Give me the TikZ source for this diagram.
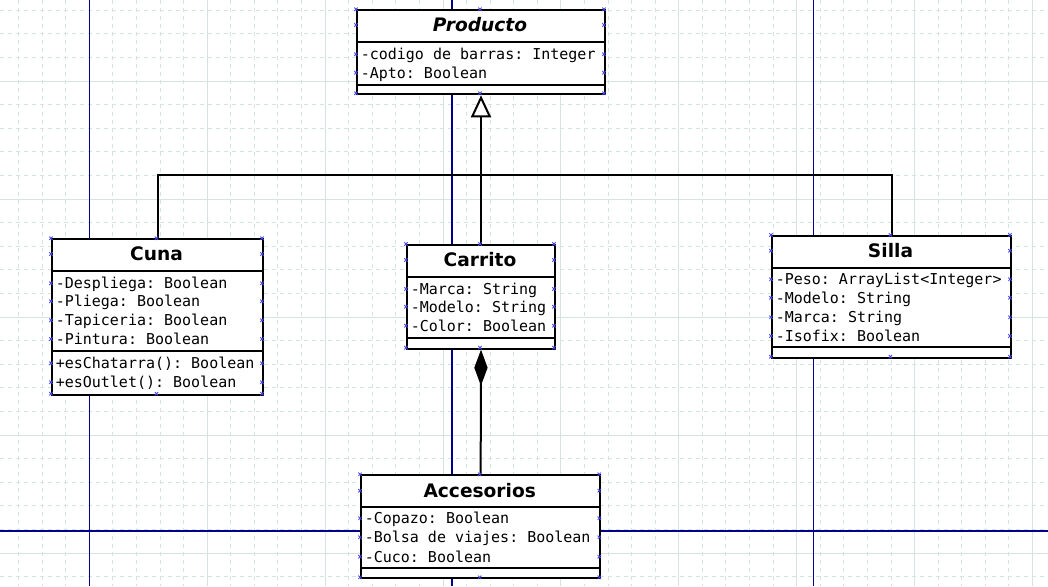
\documentclass[tikz,border=0pt]{standalone}
\usepackage{fontspec}
\setmainfont{DejaVu Sans}
\setsansfont{DejaVu Sans}
\setmonofont{DejaVu Sans Mono}
\usetikzlibrary{arrows.meta}
\definecolor{gridc}{RGB}{214,228,225}
\definecolor{axisc}{RGB}{0,0,140}
\definecolor{markc}{RGB}{70,70,235}
\tikzset{
  classbox/.style={draw=black, line width=1.5pt, fill=white, inner sep=0pt, rectangle, anchor=north west},
  sepline/.style={line width=1.5pt},
  titletext/.style={font=\sffamily\bfseries\fontsize{13.95}{16}\selectfont, inner sep=0pt, anchor=base},
  attrtext/.style={font=\ttfamily\fontsize{11.25}{13}\selectfont, inner sep=0pt, anchor=base west},
  conn/.style={line width=1.5pt, black},
  minorgrid/.style={gridc, line width=0.75pt, dash pattern=on 3pt off 3pt},
  majorgrid/.style={gridc, line width=0.75pt},
  axisline/.style={axisc, line width=1pt},
  cpmark/.style={markc, line width=0.6pt},
}
\newcommand\cpmarkat[2]{\draw[cpmark] ({#1-1.7},{#2-1.7}) -- ({#1+1.7},{#2+1.7}) ({#1-1.7},{#2+1.7}) -- ({#1+1.7},{#2-1.7});}
\newcommand\cpmarks[6]{%
  \foreach \yy in {#4,#5,#6} {\cpmarkat{#1}{\yy}\cpmarkat{#3}{\yy}}%
  \cpmarkat{#2}{#4}\cpmarkat{#2}{#5}}
\begin{document}
\begin{tikzpicture}[x=0.75pt,y=-0.75pt]
\useasboundingbox (0,0) rectangle (1048,586);
\clip (0,0) rectangle (1048,586);
\fill[white] (0,0) rectangle (1048,586);
% grid
\foreach \k in {-3,...,40} \draw[minorgrid] ({89.3+\k*23.58},0) -- ({89.3+\k*23.58},586);
\foreach \k in {-3,...,21} \draw[minorgrid] (0,{81+\k*23.6}) -- (1048,{81+\k*23.6});
\foreach \k in {0,5,...,40} \draw[majorgrid] ({89.3+\k*23.58},0) -- ({89.3+\k*23.58},586);
\foreach \k in {0,5,...,20} \draw[majorgrid] (0,{81+\k*23.6}) -- (1048,{81+\k*23.6});
% axis lines
\draw[axisline] (89.3,0) -- (89.3,586);
\draw[axisline] (452,0) -- (452,586);
\draw[axisline] (813.3,0) -- (813.3,586);
\draw[axisline] (0,531) -- (1048,531);

% Producto
\node[classbox, minimum width={248*0.75pt}, minimum height={84*0.75pt}] (producto) at (356,9.3) {};
\draw[sepline] (356,42.3) -- (604,42.3) (356,84.7) -- (604,84.7);
\node[titletext] (producto-t) at (480,31.8) {\itshape Producto};
\node[attrtext] (producto-a1) at (360.5,59.8) {-codigo de barras: Integer};
\node[attrtext] (producto-a2) at (360.5,78.2) {-Apto: Boolean};

% Cuna
\node[classbox, minimum width={211*0.75pt}, minimum height={155.4*0.75pt}] (cuna) at (51,238.3) {};
\draw[sepline] (51,271.3) -- (262,271.3) (51,350.7) -- (262,350.7);
\node[titletext] (cuna-t) at (156.5,260.8) {Cuna};
\node[attrtext] (cuna-a1) at (55.5,288.8) {-Despliega: Boolean};
\node[attrtext] (cuna-a2) at (55.5,306.8) {-Pliega: Boolean};
\node[attrtext] (cuna-a3) at (55.5,325.8) {-Tapiceria: Boolean};
\node[attrtext] (cuna-a4) at (55.5,344.5) {-Pintura: Boolean};
\node[attrtext] (cuna-m1) at (55.5,368.8) {+esChatarra(): Boolean};
\node[attrtext] (cuna-m2) at (55.5,387.8) {+esOutlet(): Boolean};

% Carrito
\node[classbox, minimum width={148*0.75pt}, minimum height={103.7*0.75pt}] (carrito) at (406,244) {};
\draw[sepline] (406,277.3) -- (554,277.3) (406,338) -- (554,338);
\node[titletext] (carrito-t) at (480,266.8) {Carrito};
\node[attrtext] (carrito-a1) at (410.5,294.5) {-Marca: String};
\node[attrtext] (carrito-a2) at (410.5,312.2) {-Modelo: String};
\node[attrtext] (carrito-a3) at (410.5,331.2) {-Color: Boolean};

% Silla
\node[classbox, minimum width={239*0.75pt}, minimum height={121.7*0.75pt}] (silla) at (771,235) {};
\draw[sepline] (771,267.7) -- (1010,267.7) (771,347.3) -- (1010,347.3);
\node[titletext] (silla-t) at (890.5,257.5) {Silla};
\node[attrtext] (silla-a1) at (775.5,284.8) {-Peso: ArrayList<Integer>};
\node[attrtext] (silla-a2) at (775.5,303.2) {-Modelo: String};
\node[attrtext] (silla-a3) at (775.5,322.8) {-Marca: String};
\node[attrtext] (silla-a4) at (775.5,341.5) {-Isofix: Boolean};

% Accesorios
\node[classbox, minimum width={239.3*0.75pt}, minimum height={103*0.75pt}] (accesorios) at (360,474.3) {};
\draw[sepline] (360,507) -- (599.3,507) (360,567.7) -- (599.3,567.7);
\node[titletext] (accesorios-t) at (479.7,497.5) {Accesorios};
\node[attrtext] (accesorios-a1) at (364.5,523.8) {-Copazo: Boolean};
\node[attrtext] (accesorios-a2) at (364.5,542.8) {-Bolsa de viajes: Boolean};
\node[attrtext] (accesorios-a3) at (364.5,562.2) {-Cuco: Boolean};

% connectors
\coordinate (bus) at (480,174.5);
\draw[conn] (cuna.north) |- (bus) -| (silla.north);
\draw[conn, -{Triangle[open, fill=white, length=16.5pt, width=15pt]}] (carrito.north) -- (producto.south);
\draw[conn, -{Diamond[length=27pt, width=10pt]}] (accesorios.north) -- (carrito.south);

% connection point marks
\cpmarks{356}{480}{604}{9.3}{93.3}{25,54.3,72.7}
\cpmarks{51}{156.5}{262}{238.3}{393.7}{254,283.3,301.3,320.3,339,363.3,382.3}
\cpmarks{406}{480}{554}{244}{347.7}{260,289,306.7,325.7}
\cpmarks{771}{890.5}{1010}{235}{356.7}{250.7,279.3,297.7,317.3,336}
\cpmarks{360}{479.7}{599.3}{474.3}{577.3}{490.7,518.3,537.3,556.7}
\end{tikzpicture}
\end{document}
